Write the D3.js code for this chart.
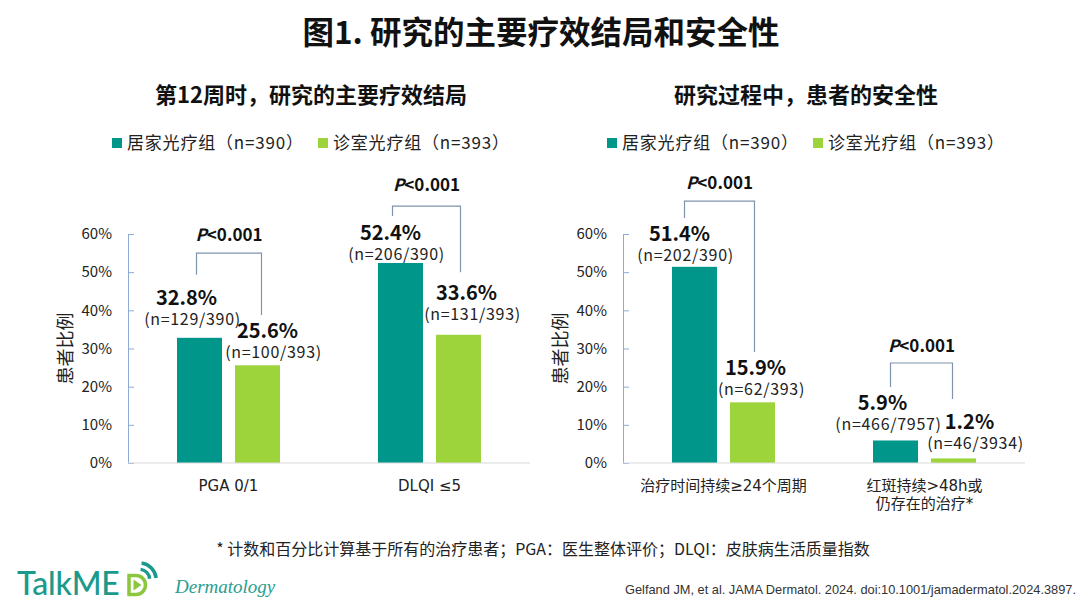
<!DOCTYPE html>
<html>
<head>
<meta charset="utf-8">
<script src="https://cdn.jsdelivr.net/npm/d3@7"></script>
<style>
  body { margin: 0; background: #fff; }
  svg { display: block; font-family: "Noto Sans CJK SC", "Noto Sans", sans-serif; }
</style>
</head>
<body>
<script>
const W = 1080, H = 608;

// ---- data ----
const seriesNames = ["居家光疗组（n=390）", "诊室光疗组（n=393）"];
const yTickValues = [0, 10, 20, 30, 40, 50, 60];

const effCategories = [["PGA 0/1"], ["DLQI ≤5"]];
const effHome = [32.8, 52.4];
const effClinic = [25.6, 33.6];
const effHomeN = ["(n=129/390)", "(n=206/390)"];
const effClinicN = ["(n=100/393)", "(n=131/393)"];
const effP = ["<0.001", "<0.001"];

const safeCategories = [["治疗时间持续≥24个周期"], ["红斑持续>48h或", "仍存在的治疗*"]];
const safeHome = [51.4, 5.9];
const safeClinic = [15.9, 1.2];
const safeHomeN = ["(n=202/390)", "(n=466/7957)"];
const safeClinicN = ["(n=62/393)", "(n=46/3934)"];
const safeP = ["<0.001", "<0.001"];

// ---- layout / style ----
const colors = ["#00968a", "#9ed43b"];
const axisBlue = "#8eaad8";
const bracketColor = "#8093ad";
const plotW = 402;
const yTop = 234, yBottom = 463;

// bracket levels in axis units: [left end, top, right end, P text baseline]
const effBrackets = [[49.3, 55.0, 38.8, 58.2], [64.7, 67.3, 50.0, 71.2]];
const safeBrackets = [[64.2, 68.6, 29.1, 71.8], [19.9, 26.2, 16.8, 29.0]];
// horizontal nudge of bracket legs from bar centres: [left, right]
const effBracketDx = [[-3, 4], [-8, 2]];
const safeBracketDx = [[-10, 2], [-5, -1]];
// value label nudge from bar top centre: [dx, dy], per series per category
const effLabelShift = [[[-13, -33], [-10, -23]], [[10, -27], [8, -35]]];
const safeLabelShift = [[[-15, -26], [-13, -30]], [[3, -27], [16, -29]]];

const svg = d3.select("body").append("svg")
    .attr("width", W)
    .attr("height", H);

const y = d3.scaleLinear().domain([0, 60]).range([yBottom, yTop]);

// titles
svg.append("text")
    .attr("x", 541).attr("y", 44)
    .attr("text-anchor", "middle")
    .attr("font-size", 31.5).attr("font-weight", 700)
    .attr("fill", "#111")
    .text("图1. 研究的主要疗效结局和安全性");

function drawPanel(x0, cfg) {
    const g = svg.append("g").attr("transform", `translate(${x0},0)`);

    g.append("text")
        .attr("x", 183).attr("y", 103)
        .attr("text-anchor", "middle")
        .attr("font-size", 22).attr("font-weight", 700)
        .attr("fill", "#111")
        .text(cfg.title);

    // legend
    const leg = g.selectAll(".leg").data(seriesNames).join("g")
        .attr("transform", (_, i) => `translate(${-16 + i * 206},0)`);
    leg.append("rect")
        .attr("y", 138).attr("width", 10).attr("height", 10)
        .attr("fill", (_, i) => colors[i]);
    leg.append("text")
        .attr("x", 15).attr("y", 149)
        .attr("font-size", 17).attr("letter-spacing", 0.8).attr("fill", "#222")
        .text(d => d);

    const x = d3.scaleBand()
        .domain(d3.range(cfg.categories.length))
        .range([0, plotW])
        .paddingInner(0.4876)
        .paddingOuter(0.2438);
    const xs = d3.scaleBand().domain([0, 1]).range([0, x.bandwidth()]).paddingInner(0.224);

    // y axis
    const yAxis = g.append("g")
        .call(d3.axisLeft(y).tickValues(yTickValues).tickSize(-6).tickSizeOuter(0)
            .tickPadding(16).tickFormat(d => d + "%"));
    yAxis.select(".domain").attr("stroke", axisBlue);
    yAxis.selectAll(".tick line").attr("stroke", axisBlue);
    yAxis.selectAll(".tick text")
        .attr("font-size", 15).attr("fill", "#222")
        .attr("font-family", "\"Noto Sans CJK SC\", sans-serif");

    g.append("text")
        .attr("transform", `translate(-64,${(yTop + yBottom) / 2}) rotate(-90)`)
        .attr("text-anchor", "middle")
        .attr("dominant-baseline", "central")
        .attr("font-size", 18).attr("fill", "#222")
        .text("患者比例");

    // bars
    const series = [cfg.home, cfg.clinic];
    const nLabels = [cfg.homeN, cfg.clinicN];
    series.forEach((vals, s) => {
        g.selectAll(`.bar${s}`).data(vals).join("rect")
            .attr("x", (_, i) => x(i) + xs(s))
            .attr("y", d => y(d))
            .attr("width", xs.bandwidth())
            .attr("height", d => y(0) - y(d))
            .attr("fill", colors[s]);

        const lab = g.selectAll(`.lab${s}`).data(vals).join("g")
            .attr("transform", (d, i) => {
                const [dx, dy] = cfg.labelShift[s][i];
                return `translate(${x(i) + xs(s) + xs.bandwidth() / 2 + dx},${y(d) + dy})`;
            });
        lab.append("text")
            .attr("text-anchor", "middle")
            .attr("font-size", 20).attr("font-weight", 700).attr("fill", "#111")
            .text(d => d.toFixed(1) + "%");
        lab.append("text")
            .attr("x", 6).attr("y", 20)
            .attr("text-anchor", "middle")
            .attr("font-size", 16).attr("letter-spacing", 0.7).attr("fill", "#222")
            .text((_, i) => nLabels[s][i]);
    });

    // x axis line
    g.append("line")
        .attr("x1", 0).attr("x2", plotW)
        .attr("y1", y(0)).attr("y2", y(0))
        .attr("stroke", "#d9d9d9").attr("stroke-width", 1.2);

    // category labels
    const cat = g.selectAll(".cat").data(cfg.categories).join("text")
        .attr("x", (_, i) => x(i) + x.bandwidth() / 2)
        .attr("y", 491)
        .attr("text-anchor", "middle")
        .attr("font-family", "\"DejaVu Sans\", \"Noto Sans CJK SC\", sans-serif")
        .attr("font-size", 15).attr("fill", "#222");
    cat.selectAll("tspan").data(d => d).join("tspan")
        .attr("x", function () { return d3.select(this.parentNode).attr("x"); })
        .attr("dy", (_, j) => j === 0 ? 0 : 18)
        .text(d => d);

    // significance brackets
    cfg.brackets.forEach((b, i) => {
        const [lo, top, ro, pt] = b;
        const xl = x(i) + xs(0) + xs.bandwidth() / 2 + cfg.bracketDx[i][0];
        const xr = x(i) + xs(1) + xs.bandwidth() / 2 + cfg.bracketDx[i][1];
        g.append("path")
            .attr("d", `M${xl},${y(lo)}V${y(top)}H${xr}V${y(ro)}`)
            .attr("fill", "none")
            .attr("stroke", bracketColor)
            .attr("stroke-width", 1.2);
        const t = g.append("text")
            .attr("x", (xl + xr) / 2).attr("y", y(pt))
            .attr("text-anchor", "middle")
            .attr("font-size", 17).attr("font-weight", 700).attr("fill", "#111");
        t.append("tspan").attr("font-style", "italic").text("P");
        t.append("tspan").text(cfg.p[i]);
    });
}

drawPanel(128, {
    title: "第12周时，研究的主要疗效结局",
    categories: effCategories,
    home: effHome, clinic: effClinic,
    homeN: effHomeN, clinicN: effClinicN,
    p: effP,
    brackets: effBrackets, bracketDx: effBracketDx,
    labelShift: effLabelShift
});

drawPanel(623, {
    title: "研究过程中，患者的安全性",
    categories: safeCategories,
    home: safeHome, clinic: safeClinic,
    homeN: safeHomeN, clinicN: safeClinicN,
    p: safeP,
    brackets: safeBrackets, bracketDx: safeBracketDx,
    labelShift: safeLabelShift
});

// footnote
svg.append("text")
    .attr("x", 543).attr("y", 555)
    .attr("text-anchor", "middle")
    .attr("font-size", 16).attr("fill", "#222")
    .text("* 计数和百分比计算基于所有的治疗患者；PGA：医生整体评价；DLQI：皮肤病生活质量指数");

// citation
svg.append("text")
    .attr("x", 1076).attr("y", 594)
    .attr("text-anchor", "end")
    .attr("font-family", "\"Liberation Sans\", Arial, sans-serif")
    .attr("font-size", 12.8).attr("fill", "#333")
    .text("Gelfand JM, et al. JAMA Dermatol. 2024. doi:10.1001/jamadermatol.2024.3897.");

// logo
const logo = svg.append("g");
logo.append("text")
    .attr("x", 17).attr("y", 595)
    .attr("font-family", "Lato, \"Open Sans\", sans-serif")
    .attr("font-size", 32).attr("font-weight", 500)
    .attr("letter-spacing", -0.2)
    .attr("fill", "#1b9a8b")
    .text("TalkME");
logo.append("path")
    .attr("d", "M129,575.5H136A9.5,9.5 0 0 1 136,594.5H129Z")
    .attr("fill", "none").attr("stroke", "#8cc63f").attr("stroke-width", 3.5);
logo.append("path")
    .attr("d", "M133.5,579.5L141.5,585L133.5,590.5Z")
    .attr("fill", "#8cc63f");
[[9, 12.5], [15.5, 19]].forEach(([r0, r1]) => {
    logo.append("path")
        .attr("transform", "translate(139,580)")
        .attr("d", d3.arc()({ innerRadius: r0, outerRadius: r1, startAngle: 0.15, endAngle: 1.45 }))
        .attr("fill", "#1b9a8b");
});
logo.append("text")
    .attr("x", 175).attr("y", 593)
    .attr("font-family", "\"Liberation Serif\", serif")
    .attr("font-style", "italic")
    .attr("font-size", 19)
    .attr("fill", "#2a9d8f")
    .text("Dermatology");
</script>
</body>
</html>
